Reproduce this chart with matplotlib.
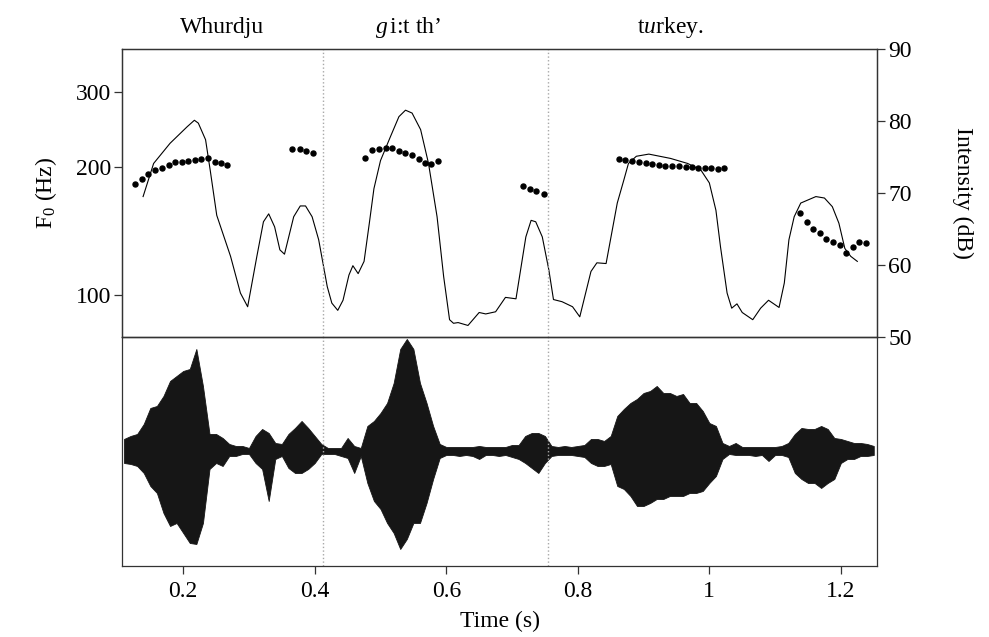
import numpy as np
import matplotlib.pyplot as plt
from matplotlib.ticker import FixedLocator, NullLocator

plt.rcParams['font.family'] = ['Liberation Serif', 'DejaVu Serif']
plt.rcParams['mathtext.fontset'] = 'custom'
plt.rcParams['mathtext.rm'] = 'Liberation Serif'
plt.rcParams['mathtext.it'] = 'Liberation Serif:italic'

# intensity contour (dB)
int_time = [0.139, 0.155, 0.180, 0.206, 0.217, 0.223, 0.234, 0.241, 0.251, 0.272,
            0.287, 0.298, 0.312, 0.322, 0.330, 0.339, 0.347, 0.354, 0.368, 0.378,
            0.386, 0.396, 0.406, 0.419, 0.426, 0.435, 0.443, 0.452, 0.458, 0.466,
            0.475, 0.483, 0.490, 0.500, 0.515, 0.528, 0.538, 0.548, 0.561, 0.573,
            0.586, 0.596, 0.605, 0.611, 0.618, 0.633, 0.650, 0.660, 0.675, 0.690,
            0.706, 0.721, 0.729, 0.736, 0.746, 0.756, 0.763, 0.776, 0.792, 0.803,
            0.820, 0.829, 0.843, 0.860, 0.870, 0.877, 0.889, 0.908, 0.941, 0.967,
            0.987, 1.000, 1.010, 1.017, 1.027, 1.034, 1.042, 1.050, 1.066, 1.078,
            1.090, 1.106, 1.114, 1.121, 1.129, 1.139, 1.162, 1.175, 1.187, 1.197,
            1.206, 1.215, 1.225]
int_db = [69.5, 74.1, 76.9, 79.2, 80.1, 79.7, 77.4, 73.2, 66.9, 61.2,
          56.1, 54.2, 61.2, 66.0, 67.1, 65.3, 62.1, 61.5, 66.7, 68.2,
          68.2, 66.7, 63.5, 57.0, 54.7, 53.7, 55.1, 58.6, 59.9, 58.8,
          60.5, 65.8, 70.6, 74.5, 77.8, 80.6, 81.5, 81.1, 78.8, 74.1,
          66.7, 58.4, 52.4, 51.9, 52.0, 51.6, 53.4, 53.2, 53.5, 55.5,
          55.3, 63.9, 66.2, 66.0, 63.9, 59.3, 55.2, 54.9, 54.2, 52.8,
          59.1, 60.3, 60.2, 68.6, 71.8, 74.1, 75.1, 75.4, 74.8, 74.1,
          73.2, 71.4, 67.6, 62.5, 56.1, 54.0, 54.6, 53.4, 52.4, 54.0,
          55.1, 54.1, 57.5, 63.5, 66.7, 68.6, 69.5, 69.3, 68.1, 65.8,
          62.3, 61.2, 60.5]

# F0 track (Hz)
f0_time = [0.127, 0.137, 0.147, 0.157, 0.168, 0.178, 0.188, 0.198, 0.208, 0.218,
           0.227, 0.237, 0.248, 0.257, 0.267,
           0.366, 0.377, 0.387, 0.397,
           0.477, 0.487, 0.497, 0.508, 0.518, 0.528, 0.538, 0.548, 0.558, 0.568,
           0.577, 0.588,
           0.717, 0.727, 0.737, 0.748,
           0.862, 0.872, 0.883, 0.893, 0.903, 0.913, 0.923, 0.933, 0.943, 0.954,
           0.964, 0.974, 0.983, 0.993, 1.003, 1.013, 1.022,
           1.138, 1.148, 1.157, 1.168, 1.178, 1.188, 1.198, 1.208, 1.218, 1.228,
           1.238]
f0_hz = [182.2, 187.2, 192.6, 196.9, 199.3, 202.6, 205.2, 205.9, 207.0, 207.8,
         208.6, 210.4, 205.2, 204.5, 201.9,
         220.2, 220.2, 218.6, 215.9,
         209.8, 219.0, 220.9, 222.2, 221.4, 218.6, 215.5, 213.2, 208.9, 204.8,
         203.0, 207.0,
         180.5, 177.6, 176.0, 172.9,
         208.9, 207.4, 207.0, 205.9, 204.8, 203.7, 202.6, 201.5, 201.2, 200.9,
         200.4, 200.1, 199.3, 199.0, 199.0, 197.9, 198.7,
         155.9, 148.7, 143.0, 139.7, 135.2, 133.5, 131.1, 125.8, 129.5, 133.0,
         132.3]

# waveform envelope (arbitrary units, upper and lower excursion)
wave_time = [0.11, 0.12, 0.13, 0.14, 0.15, 0.16, 0.17, 0.18, 0.19, 0.20,
             0.21, 0.22, 0.23, 0.24, 0.25, 0.26, 0.27, 0.28, 0.29, 0.30,
             0.31, 0.32, 0.33, 0.34, 0.35, 0.36, 0.37, 0.38, 0.39, 0.40,
             0.41, 0.42, 0.43, 0.44, 0.45, 0.46, 0.47, 0.48, 0.49, 0.50,
             0.51, 0.52, 0.53, 0.54, 0.55, 0.56, 0.57, 0.58, 0.59, 0.60,
             0.61, 0.62, 0.63, 0.64, 0.65, 0.66, 0.67, 0.68, 0.69, 0.70,
             0.71, 0.72, 0.73, 0.74, 0.75, 0.76, 0.77, 0.78, 0.79, 0.80,
             0.81, 0.82, 0.83, 0.84, 0.85, 0.86, 0.87, 0.88, 0.89, 0.90,
             0.91, 0.92, 0.93, 0.94, 0.95, 0.96, 0.97, 0.98, 0.99, 1.00,
             1.01, 1.02, 1.03, 1.04, 1.05, 1.06, 1.07, 1.08, 1.09, 1.10,
             1.11, 1.12, 1.13, 1.14, 1.15, 1.16, 1.17, 1.18, 1.19, 1.20,
             1.21, 1.22, 1.23, 1.24, 1.25]
wave_up = [12, 15, 17, 27, 43, 45, 55, 70, 75, 80,
           82, 102, 65, 17, 17, 13, 7, 5, 5, 3,
           15, 22, 18, 8, 7, 17, 23, 30, 23, 15,
           7, 3, 3, 3, 13, 5, 3, 25, 30, 38,
           48, 68, 102, 112, 102, 68, 48, 25, 7, 4,
           4, 4, 4, 4, 5, 4, 4, 4, 4, 6,
           6, 15, 18, 18, 15, 5, 4, 5, 4, 5,
           6, 12, 12, 10, 15, 35, 42, 48, 52, 58,
           60, 65, 58, 58, 55, 57, 48, 48, 40, 28,
           25, 8, 5, 8, 4, 4, 4, 4, 4, 4,
           5, 8, 17, 23, 22, 22, 25, 22, 13, 12,
           10, 8, 8, 7, 5]
wave_down = [12, 13, 15, 22, 35, 42, 62, 75, 72, 82,
             92, 93, 72, 18, 12, 15, 5, 5, 3, 3,
             12, 18, 50, 8, 5, 17, 22, 22, 18, 12,
             3, 3, 3, 5, 7, 22, 5, 32, 50, 58,
             72, 82, 98, 88, 72, 72, 52, 28, 7, 4,
             4, 5, 4, 5, 8, 4, 4, 5, 4, 6,
             8, 12, 17, 22, 12, 5, 4, 4, 4, 5,
             6, 12, 15, 15, 13, 35, 38, 45, 55, 55,
             52, 48, 48, 45, 45, 45, 42, 42, 40, 32,
             25, 8, 3, 4, 4, 4, 5, 4, 10, 4,
             4, 6, 22, 28, 32, 32, 37, 32, 28, 12,
             8, 8, 5, 5, 4]

boundaries = [0.413, 0.754]
words = [r'Whurdju', r'$\mathit{g}\,$i:t th’', r't$\mathit{u}$rkey.']
word_x = [0.259, 0.542, 0.941]

fig = plt.figure(figsize=(9.89, 6.37), dpi=100)
ax1 = fig.add_axes([0.1234, 0.471, 0.7634, 0.4521])
ax2 = fig.add_axes([0.1234, 0.1115, 0.7634, 0.3595], sharex=ax1)
ax1r = ax1.twinx()

spine_col = '#333333'
for a in (ax1, ax2, ax1r):
    for s in a.spines.values():
        s.set_color(spine_col)
        s.set_linewidth(0.9)

# top panel: intensity + F0
ax1r.plot(int_time, int_db, color='black', lw=0.8)
ax1r.set_ylim(50, 90)
ax1r.set_yticks([50, 60, 70, 80, 90])
ax1r.set_ylabel('Intensity (dB)', fontsize=17, rotation=270, labelpad=44)

ax1.plot(f0_time, f0_hz, 'o', color='black', ms=3.6, zorder=5)
ax1.set_yscale('log')
ax1.set_ylim(79.7, 379)
ax1.yaxis.set_major_locator(FixedLocator([100, 200, 300]))
ax1.yaxis.set_minor_locator(NullLocator())
ax1.set_yticklabels(['100', '200', '300'])
ax1.set_ylabel(r'F$_\mathrm{0}$ (Hz)', fontsize=17, labelpad=12)
ax1.set_zorder(ax1r.get_zorder() + 1)
ax1.patch.set_visible(False)
ax1.tick_params(axis='x', bottom=False, labelbottom=False)

for a in (ax1, ax1r):
    a.tick_params(axis='y', labelsize=17, length=6, width=0.9, color=spine_col, pad=2)

# bottom panel: waveform envelope
wt = np.array(wave_time)
ax2.fill_between(wt, np.array(wave_up), -np.array(wave_down),
                 color='#161616', lw=0.6, edgecolor='#161616')
ax2.set_ylim(-115, 114)
ax2.set_yticks([])
ax2.set_xlim(0.107, 1.255)
ax2.set_xticks([0.2, 0.4, 0.6, 0.8, 1.0, 1.2])
ax2.set_xticklabels(['0.2', '0.4', '0.6', '0.8', '1', '1.2'])
ax2.tick_params(axis='x', labelsize=17, length=6, width=0.9, color=spine_col, pad=5)
ax2.set_xlabel('Time (s)', fontsize=17, labelpad=6)

for b in boundaries:
    ax1.axvline(b, color='#a8a8a8', ls=':', lw=1.0)
    ax2.axvline(b, color='#a8a8a8', ls=':', lw=1.0)

for w, x in zip(words, word_x):
    ax1.text(x, 1.073, w, transform=ax1.get_xaxis_transform(),
             ha='center', va='center', fontsize=17)

fig.savefig('out.png', dpi=100)
